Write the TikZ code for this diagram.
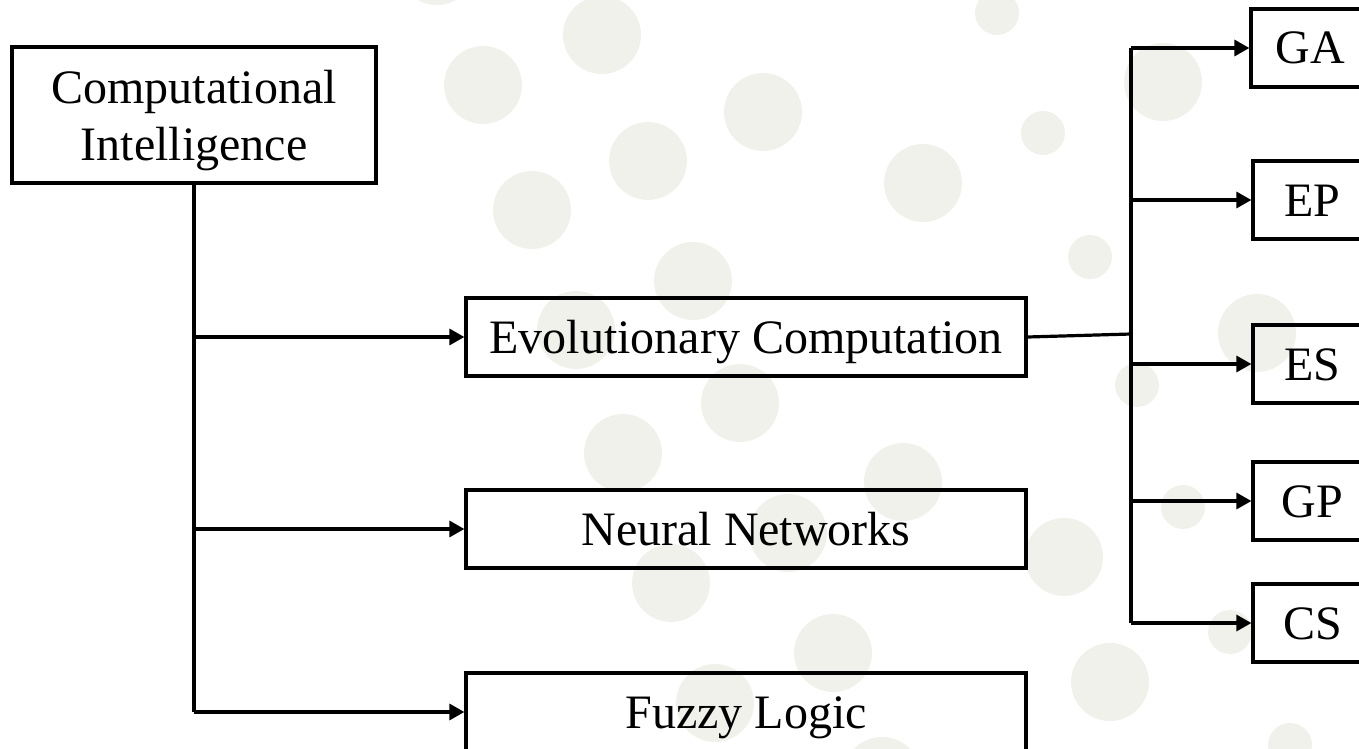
\documentclass[tikz,border=0pt]{standalone}
\usepackage{fontspec}
\setmainfont{Liberation Serif}
\usetikzlibrary{arrows.meta}
\definecolor{dotgray}{RGB}{241,241,236}
\begin{document}
\begin{tikzpicture}[x=1pt,y=-1pt,
  box/.style={draw=black,line width=3.2pt,inner sep=0pt,font=\fontsize{48}{57}\selectfont},
  lbox/.style={box,minimum width=560pt,minimum height=78pt,text height=32pt,text depth=0pt},
  rbox/.style={box,minimum width=119pt,minimum height=78pt,text height=32pt,text depth=0pt},
  conn/.style={line width=3.2pt},
  arr/.style={conn,-{Triangle[length=15pt,width=16pt]}},
  dot/.style={fill=dotgray,draw=none}]
\useasboundingbox (0,0) rectangle (1359,749);
\clip (0,0) rectangle (1359,749);
% background dots
\foreach \cx/\cy/\r in {437/-34/39,483/85/39,602/35/39,763/112/39,648/161/39,532/210/39,693/281/39,576/330/39,740/403/39,923/183/39,997/13/22,1043/133/22,1090/257/22,1163/82/39,1257/333/39,1137/385/22,903/482/39,1064/557/39,1183/507/22,1230/632/22,1110/682/39,1290/745/22,882/776/39,623/453/39,788/533/39,671/583/39,833/653/39,715/703/39}
  \fill[dot] (\cx,\cy) circle[radius=\r];
% nodes
\node[box,minimum width=364pt,minimum height=136pt,align=center,text depth=0pt] (ci) at (194,115) {Computational\\Intelligence};
\node[lbox] (ec) at (746,337) {Evolutionary Computation};
\node[lbox] (nn) at (746,529) {Neural Networks};
\node[lbox] (fl) at (746,712) {Fuzzy Logic};
\node[rbox] (ga) at (1310.5,48) {GA};
\node[rbox] (ep) at (1312.5,200) {EP};
\node[rbox] (es) at (1312.5,364) {ES};
\node[rbox] (gp) at (1312.5,501) {GP};
\node[rbox] (cs) at (1312.5,623) {CS};
\coordinate (j) at (1131,334);
% left tree
\draw[conn] (ci.south) -- (ci.south |- fl.west);
\draw[arr] (ci.south |- ec.west) -- (ec.west);
\draw[arr] (ci.south |- nn.west) -- (nn.west);
\draw[arr] (ci.south |- fl.west) -- (fl.west);
% right tree
\draw[conn] (ec.east) -- (j);
\draw[conn] (j |- ga.west) -- (j |- cs.west);
\draw[arr] (j |- ga.west) -- (ga.west);
\draw[arr] (j |- ep.west) -- (ep.west);
\draw[arr] (j |- es.west) -- (es.west);
\draw[arr] (j |- gp.west) -- (gp.west);
\draw[arr] (j |- cs.west) -- (cs.west);
\end{tikzpicture}
\end{document}
